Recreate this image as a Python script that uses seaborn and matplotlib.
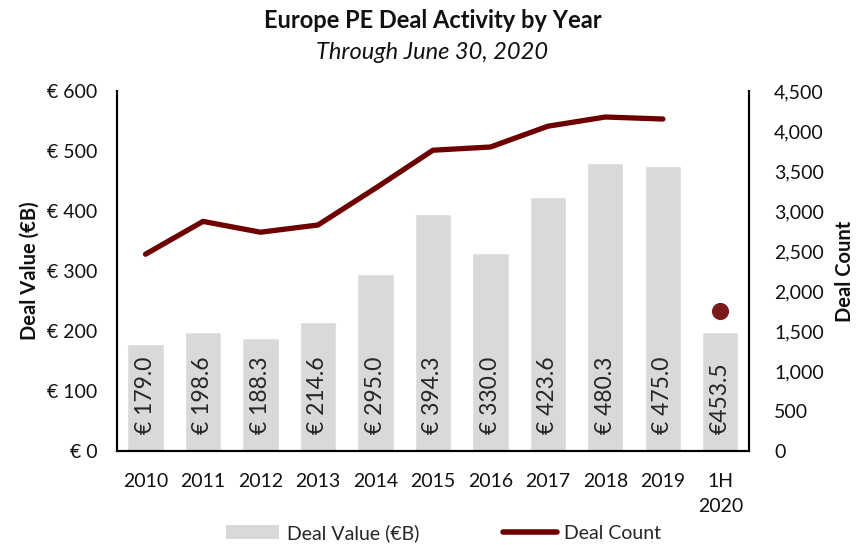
import matplotlib
matplotlib.use("Agg")
import matplotlib.pyplot as plt
from matplotlib.ticker import FuncFormatter
from matplotlib.lines import Line2D
from matplotlib.patches import Patch
import seaborn as sns
import pandas as pd

categories = ["2010", "2011", "2012", "2013", "2014", "2015", "2016",
              "2017", "2018", "2019", "1H\n2020"]
deal_value = [179.0, 198.6, 188.3, 214.6, 295.0, 394.3, 330.0,
              423.6, 480.3, 475.0, 198.0]
value_labels = ["€ 179.0", "€ 198.6", "€ 188.3", "€ 214.6", "€ 295.0",
                "€ 394.3", "€ 330.0", "€ 423.6", "€ 480.3", "€ 475.0",
                "€453.5"]
deal_count_years = [2460, 2870, 2735, 2825, 3285, 3760, 3800, 4060, 4175, 4150]
deal_count_partial = [1750]

sns.set_theme(style="white")
plt.rcParams["font.family"] = ["Lato", "DejaVu Sans"]

bar_color = "#d9d9d9"
line_color = "#6e0000"
dot_color = "#7b1a1a"
text_color = "#111111"
fs = 14

fig = plt.figure(figsize=(8.65, 5.45), dpi=100)
ax = fig.add_axes([0.135, 0.1725, 0.731, 0.6605])

df = pd.DataFrame({"cat": categories, "value": deal_value})
sns.barplot(data=df, x="cat", y="value", color=bar_color, width=0.63,
            saturation=1, ax=ax, order=categories)

for i, lab in enumerate(value_labels):
    ax.text(i, 28, lab, rotation=90, ha="center", va="bottom",
            fontsize=16.5, color="#262626")

ax.set_ylim(0, 600)
ax.set_yticks(range(0, 601, 100))
ax.yaxis.set_major_formatter(FuncFormatter(lambda v, p: f"€ {int(v)}"))
ax.set_xticks(range(len(categories)))
ax.set_xticklabels(categories, linespacing=1.55)
ax.set_xlim(-0.5, len(categories) - 0.5)
ax.set_xlabel("")
ax.set_ylabel("Deal Value (€B)", fontsize=14.5, fontweight="bold", labelpad=5,
              color=text_color)
ax.tick_params(axis="both", labelsize=fs, length=0, colors=text_color)
ax.tick_params(axis="x", pad=16)
ax.tick_params(axis="y", pad=14)

ax2 = ax.twinx()
sns.lineplot(x=list(range(len(deal_count_years))), y=deal_count_years,
             color=line_color, linewidth=3.8, ax=ax2)
sns.scatterplot(x=[len(categories) - 1], y=deal_count_partial, color=dot_color,
                s=130, edgecolor=dot_color, ax=ax2, zorder=5)
ax2.set_ylim(0, 4500)
ax2.set_yticks(range(0, 4501, 500))
ax2.yaxis.set_major_formatter(FuncFormatter(lambda v, p: f"{int(v):,}"))
ax2.set_ylabel("Deal Count", fontsize=14.5, fontweight="bold", labelpad=8,
               color=text_color)
ax2.tick_params(axis="y", labelsize=fs, length=0, pad=18, colors=text_color)

for a in (ax, ax2):
    a.spines["top"].set_visible(False)
    for s in ("left", "right", "bottom"):
        a.spines[s].set_color("black")
        a.spines[s].set_linewidth(1.5)
    a.grid(False)

fig.text(0.5, 0.962, "Europe PE Deal Activity by Year", ha="center",
         va="center", fontsize=17, fontweight="bold", color=text_color)
fig.text(0.5, 0.904, "Through June 30, 2020", ha="center", va="center",
         fontsize=17, style="italic", color=text_color)

handles = [Patch(facecolor=bar_color, edgecolor="none", label="Deal Value (€B)"),
           Line2D([0], [0], color=line_color, linewidth=4, label="Deal Count")]
fig.legend(handles=handles, loc="center", bbox_to_anchor=(0.513, 0.022),
           ncol=2, frameon=False, fontsize=fs, handlelength=2.75,
           columnspacing=4.3, handletextpad=0.4)

fig.savefig("out.png", dpi=100)
